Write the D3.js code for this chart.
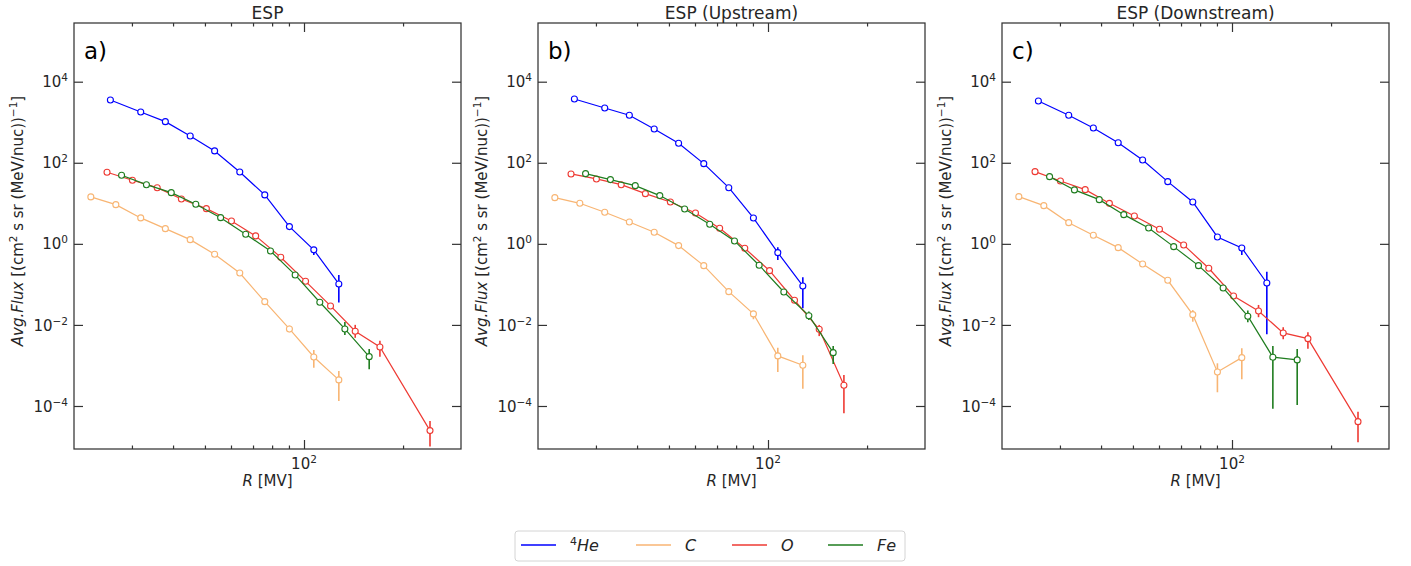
<!DOCTYPE html>
<html><head><meta charset="utf-8">
<script src="https://cdn.jsdelivr.net/npm/d3@7"></script>
<style>
body{margin:0;background:#fff}
svg{display:block}
text{font-family:"DejaVu Sans",sans-serif;fill:#262626}
</style>
</head><body>
<svg id="chart" width="1411" height="566"></svg>
<script>
// ---- data (rigidity in MV, flux in (cm^2 s sr (MeV/nuc))^-1) ----
const rHe = [25.8, 31.9, 37.9, 45.1, 53.5, 63.8, 76.0, 90.3, 107.1, 127.6];
const rC  = [22.5, 26.8, 31.9, 37.9, 45.1, 53.5, 63.8, 76.0, 90.3, 107.1, 127.6];
const rO  = [25.2, 30.1, 35.8, 42.4, 50.5, 60.2, 71.3, 85.0, 101.1, 120.4, 143.1, 170.1, 241.5];
const rFe = [27.9, 33.2, 39.5, 46.9, 55.8, 66.5, 79.1, 94.0, 111.7, 133.1, 157.8];

const titles = ["ESP", "ESP (Upstream)", "ESP (Downstream)"];
const panelTags = ["a)", "b)", "c)"];
const speciesNames = ["He", "C", "O", "Fe"];
const speciesColors = ["#0000ff", "#f8b573", "#ee3a33", "#1f7d1f"];
const xMajorTicks = [100];
const xMinorTicks = [30, 40, 50, 60, 70, 80, 90, 200];
const yTicks = [1e-4, 1e-2, 1, 1e2, 1e4];
const yTickExp = ["\u22124", "\u22122", "0", "2", "4"];

// panel a) ESP
const heA = [3548, 1791, 1033, 457, 196, 59.4, 16.1, 2.66, 0.71, 0.1026];
const cA  = [14.4, 9.27, 4.36, 2.37, 1.27, 0.554, 0.191, 0.0375, 0.00796, 0.00162, 0.00044];
const oA  = [58.3, 37.1, 24.3, 12.8, 7.38, 3.67, 1.57, 0.467, 0.119, 0.0294, 0.00698, 0.00286, 2.47e-5];
const feA = [49.2, 28.8, 18.3, 9.48, 4.43, 1.73, 0.668, 0.171, 0.0362, 0.00796, 0.00165];
const heAErr = [null,null,null,null,null,null,null,null,[0.53,0.79],[0.0355,0.171]];
const cAErr  = [null,null,null,null,null,null,null,null,[0.0066,0.0096],[0.000883,0.00242],[0.000133,0.000733]];
const oAErr  = [null,null,null,null,null,null,null,null,null,null,[0.0048,0.01004],[0.00165,0.00409],[1.0e-5,4.27e-5]];
const feAErr = [null,null,null,null,null,null,null,null,null,[0.00566,0.01186],[0.000807,0.00256]];

// panel b) ESP (Upstream)
const heB = [3750, 2249, 1486, 682, 303, 95.1, 24.3, 4.35, 0.607, 0.0915];
const cB  = [13.8, 10.0, 6.01, 3.47, 1.93, 0.904, 0.290, 0.0662, 0.0187, 0.00172, 0.00101];
const oB  = [53.0, 39.9, 28.8, 17.3, 10.8, 5.78, 2.43, 0.778, 0.218, 0.0406, 0.00782, 0.000325];
const feB = [53.9, 38.4, 27.3, 15.5, 7.26, 3.04, 1.18, 0.297, 0.065, 0.0169, 0.00207];
const heBErr = [null,null,null,null,null,null,null,null,[0.401,0.824],[0.0258,0.150]];
const cBErr  = [null,null,null,null,null,null,null,null,[0.0138,0.0222],[0.000692,0.00275],[0.000268,0.00179]];
const oBErr  = [null,null,null,null,null,null,null,null,null,null,[0.0053,0.0100],[6.6e-5,0.000583]];
const feBErr = [null,null,null,null,null,null,null,null,null,[0.0133,0.0213],[0.00109,0.00303]];

// panel c) ESP (Downstream)
const heC = [3350, 1486, 723, 313, 117, 34.2, 10.8, 1.48, 0.792, 0.108];
const cC  = [14.6, 8.76, 3.33, 1.63, 0.806, 0.319, 0.126, 0.0179, 0.000692, 0.00156];
const oC  = [60.4, 35.6, 21.7, 9.98, 4.87, 2.29, 0.94, 0.250, 0.0519, 0.0221, 0.00634, 0.00459, 4.11e-5];
const feC = [45.5, 21.4, 12.3, 5.25, 2.47, 0.853, 0.290, 0.0817, 0.0164, 0.00160, 0.00137];
const heCErr = [null,null,null,null,null,null,null,null,[0.532,0.94],[0.00589,0.206]];
const cCErr  = [null,null,null,null,null,null,null,[0.0120,0.0232],[0.000218,0.00113],[0.000457,0.00266]];
const oCErr  = [null,null,null,null,null,null,null,null,null,[0.0155,0.0311],[0.00443,0.00877],[0.0026,0.00659],[1.28e-5,7.26e-5]];
const feCErr = [null,null,null,null,null,null,null,[0.069,0.091],[0.0116,0.0228],[8.6e-5,0.00303],[0.000106,0.00255]];

const panelData = [
  [[rHe, heA, heAErr], [rC, cA, cAErr], [rO, oA, oAErr], [rFe, feA, feAErr]],
  [[rHe, heB, heBErr], [rC, cB, cBErr], [rO, oB, oBErr], [rFe, feB, feBErr]],
  [[rHe, heC, heCErr], [rC, cC, cCErr], [rO, oC, oCErr], [rFe, feC, feCErr]]
];

// ---- layout ----
const svg = d3.select("#chart");
const lefts = [74, 538, 1002];
const W = 387, plotTop = 23, plotBottom = 449;
const axisColor = "#333";

panelData.forEach((series, p) => {
  const L = lefts[p], R = L + W;
  const x = d3.scaleLog().domain([20, 300]).range([L, R]);
  const y = d3.scaleLog().domain([Math.pow(10, -5.061), Math.pow(10, 5.448)]).range([plotBottom, plotTop]);
  const g = svg.append("g");
  const clipId = "clip" + p;
  g.append("clipPath").attr("id", clipId).append("rect")
    .attr("x", L).attr("y", plotTop).attr("width", W).attr("height", plotBottom - plotTop);

  // ticks (inward) via d3 axes
  const tickStyle = sel => {
    sel.select(".domain").remove();
    sel.selectAll(".tick line").attr("stroke", axisColor).attr("stroke-width", 1.2);
    sel.selectAll(".tick text").remove();
  };
  g.append("g").attr("transform", `translate(0,${plotBottom})`)
    .call(d3.axisBottom(x).tickValues(xMajorTicks).tickSize(-9).tickFormat("")).call(tickStyle);
  g.append("g").attr("transform", `translate(0,${plotBottom})`)
    .call(d3.axisBottom(x).tickValues(xMinorTicks).tickSize(-3.5).tickFormat("")).call(tickStyle);
  g.append("g").attr("transform", `translate(0,${plotTop})`)
    .call(d3.axisTop(x).tickValues(xMajorTicks).tickSize(-9).tickFormat("")).call(tickStyle);
  g.append("g").attr("transform", `translate(0,${plotTop})`)
    .call(d3.axisTop(x).tickValues(xMinorTicks).tickSize(-3.5).tickFormat("")).call(tickStyle);
  g.append("g").attr("transform", `translate(${L},0)`)
    .call(d3.axisLeft(y).tickValues(yTicks).tickSize(-9).tickFormat("")).call(tickStyle);
  g.append("g").attr("transform", `translate(${R},0)`)
    .call(d3.axisRight(y).tickValues(yTicks).tickSize(-9).tickFormat("")).call(tickStyle);

  // frame
  g.append("rect").attr("x", L).attr("y", plotTop).attr("width", W).attr("height", plotBottom - plotTop)
    .attr("fill", "none").attr("stroke", axisColor).attr("stroke-width", 1.25);

  // y tick labels
  yTicks.forEach((v, i) => {
    const t = g.append("text").attr("x", L - 6).attr("y", y(v) + 5.6)
      .attr("text-anchor", "end").attr("font-size", 15);
    t.append("tspan").text("10");
    t.append("tspan").attr("dy", -6).attr("font-size", 10.5).text(yTickExp[i]);
  });
  // x tick label
  xMajorTicks.forEach(v => {
    const t = g.append("text").attr("x", x(v)).attr("y", plotBottom + 20)
      .attr("text-anchor", "middle").attr("font-size", 15);
    t.append("tspan").text("10");
    t.append("tspan").attr("dy", -6).attr("font-size", 10.5).text("2");
  });

  // axis labels
  const xl = g.append("text").attr("x", (L + R) / 2).attr("y", 486)
    .attr("text-anchor", "middle").attr("font-size", 15);
  xl.append("tspan").attr("font-style", "italic").text("R");
  xl.append("tspan").text(" [MV]");

  const ycx = L - 51, ycy = 221;
  const yl = g.append("text").attr("transform", `translate(${ycx},${ycy}) rotate(-90)`)
    .attr("text-anchor", "middle").attr("font-size", 15);
  yl.append("tspan").attr("font-style", "italic").text("Avg.Flux");
  yl.append("tspan").text(" [(cm");
  yl.append("tspan").attr("dy", -6).attr("font-size", 10.5).text("2");
  yl.append("tspan").attr("dy", 6).text(" s sr (MeV/nuc))");
  yl.append("tspan").attr("dy", -6).attr("font-size", 10.5).text("\u22121");
  yl.append("tspan").attr("dy", 6).text("]");

  // title and tag
  g.append("text").attr("x", (L + R) / 2).attr("y", 18.5).attr("text-anchor", "middle")
    .attr("font-size", 17).text(titles[p]);
  g.append("text").attr("x", L + 10).attr("y", 59).attr("font-size", 23)
    .style("fill", "#000").text(panelTags[p]);

  // data
  const plot = g.append("g").attr("clip-path", `url(#${clipId})`);
  series.forEach(([rs, fs, es], s) => {
    const col = speciesColors[s];
    const pts = fs.map((f, i) => ({ r: rs[i], f, e: es[i] }));
    const sg = plot.append("g");
    sg.append("path").datum(pts)
      .attr("d", d3.line().x(d => x(d.r)).y(d => y(d.f)))
      .attr("fill", "none").attr("stroke", col).attr("stroke-width", 1.2);
    sg.selectAll("line.err").data(pts.filter(d => d.e)).join("line")
      .attr("class", "err")
      .attr("x1", d => x(d.r)).attr("x2", d => x(d.r))
      .attr("y1", d => y(d.e[0])).attr("y2", d => y(d.e[1]))
      .attr("stroke", col).attr("stroke-width", 1.6);
    sg.selectAll("circle").data(pts).join("circle")
      .attr("cx", d => x(d.r)).attr("cy", d => y(d.f)).attr("r", 3)
      .attr("fill", "#fff").attr("stroke", col).attr("stroke-width", 1.1);
  });
});

// legend
const lg = svg.append("g");
lg.append("rect").attr("x", 515).attr("y", 531).attr("width", 390).attr("height", 30)
  .attr("rx", 3).attr("fill", "#fff").attr("stroke", "#d4d4d4").attr("stroke-width", 1);
const legX = [521, 636, 732, 828];
speciesNames.forEach((n, i) => {
  lg.append("line").attr("x1", legX[i]).attr("x2", legX[i] + 35).attr("y1", 545).attr("y2", 545)
    .attr("stroke", speciesColors[i]).attr("stroke-width", 1.5);
  const t = lg.append("text").attr("x", legX[i] + 49).attr("y", 551).attr("font-size", 16);
  if (n === "He") {
    t.append("tspan").attr("dy", -6).attr("font-size", 11).text("4");
    t.append("tspan").attr("dy", 6).attr("font-style", "italic").text("He");
  } else {
    t.append("tspan").attr("font-style", "italic").text(n);
  }
});
</script>
</body></html>
